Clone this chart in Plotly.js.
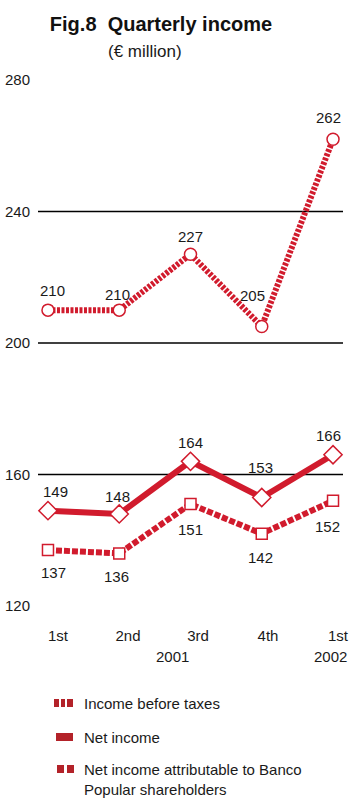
<!DOCTYPE html>
<html>
<head>
<meta charset="utf-8">
<script src="https://cdn.plot.ly/plotly-3.0.1.min.js"></script>
<style>
  html, body { margin: 0; padding: 0; background: #fff; }
  #chart { width: 350px; height: 798px; }
</style>
</head>
<body>
<div id="chart"></div>
<script>
// Quarterly income, € million
const quarters = ['1st', '2nd', '3rd', '4th', '1st'];
const years = ['2001', '2002'];
const incomeBeforeTaxes = [210, 210, 227, 205, 262];
const netIncome = [149, 148, 164, 153, 166];
const netAttributable = [137, 136, 151, 142, 152];
const seriesNames = [
  'Income before taxes',
  'Net income',
  'Net income attributable to Banco<br>Popular shareholders'
];

const W = 350, H = 798;
const M = { l: 38, r: 7, t: 80, b: 192 };
const plotW = W - M.l - M.r, plotH = H - M.t - M.b;
// pixel -> paper helpers for the decorations around the plot
const px = x => (x - M.l) / plotW;
const py = y => (H - M.b - y) / plotH;

const LINE_RED = '#d11b2d';
const SWATCH_RED = '#b32229';
const FONT = 'Liberation Sans, Arial, sans-serif';
const TEXT = '#1a1a1a';

const idx = quarters.map((_, i) => i);

function series(values, name, dash, symbol, size) {
  return {
    type: 'scatter', mode: 'lines+markers', name,
    x: idx, y: values,
    line: { color: LINE_RED, width: 6, dash },
    marker: { symbol, size, color: '#ffffff', line: { color: LINE_RED, width: 1.5 } },
    hoverinfo: 'skip', cliponaxis: false
  };
}

const traces = [
  series(netAttributable, seriesNames[2], '6px,2px', 'square', 11),
  series(netIncome, seriesNames[1], 'solid', 'diamond', 14),
  series(incomeBeforeTaxes, seriesNames[0], '3px,1.5px', 'circle', 12),
  // empty trace that carries the quarter-label axis
  { type: 'scatter', x: [], y: [], xaxis: 'x2', yaxis: 'y', hoverinfo: 'skip', showlegend: false }
];

// value labels: offsets (px) per point
const annotations = [];
function valueLabels(values, offsets) {
  values.forEach((v, i) => {
    annotations.push({
      x: i, y: v, xref: 'x', yref: 'y', text: String(v), showarrow: false,
      xanchor: 'center', yanchor: 'middle',
      xshift: offsets[i][0], yshift: offsets[i][1],
      font: { family: FONT, size: 15, color: TEXT }
    });
  });
}
valueLabels(incomeBeforeTaxes, [[5, 20], [-2, 16], [0, 18], [-9, 31], [-5, 22]]);
valueLabels(netIncome, [[8, 19], [-2, 17], [0, 19], [-1, 30], [-5, 19]]);
valueLabels(netAttributable, [[6, -22], [-3, -23], [0, -25], [-1, -24], [-6, -26]]);

function note(text, x, y, xanchor, font) {
  annotations.push({
    xref: 'paper', yref: 'paper', x: px(x), y: py(y), text, showarrow: false,
    xanchor, yanchor: 'middle', align: 'left', font
  });
}
// subtitle and year labels
note('(€ million)', 145, 52, 'center', { family: FONT, size: 17, color: TEXT });
note(years[0], 172, 656, 'center', { family: FONT, size: 15, color: TEXT });
note(years[1], 349, 656, 'right', { family: FONT, size: 15, color: TEXT });

// legend text
const legendY = [703, 737, 779];
seriesNames.forEach((n, k) => {
  note(n, 82, legendY[k], 'left', { family: FONT, size: 15, color: TEXT });
});

// horizontal rules and legend swatches
const shapes = [160, 200, 240].map(v => ({
  type: 'line', xref: 'paper', yref: 'y', x0: 0, x1: 1, y0: v, y1: v,
  line: { color: '#000', width: 1.6 }, layer: 'below'
}));
function swatch(x0, x1, y0, y1) {
  shapes.push({
    type: 'rect', xref: 'paper', yref: 'paper',
    x0: px(x0), x1: px(x1), y0: py(y1), y1: py(y0),
    fillcolor: SWATCH_RED, line: { width: 0 }
  });
}
// dashed swatch
swatch(54, 59, 699, 707); swatch(61, 65, 699, 707); swatch(67, 73, 699, 707);
// solid swatch
swatch(56, 73, 733, 741);
// square-dash swatch
swatch(57, 64, 765, 773); swatch(67, 74, 765, 773);

const layout = {
  width: W, height: H,
  margin: M,
  paper_bgcolor: '#fff', plot_bgcolor: '#fff',
  showlegend: false,
  title: {
    text: '<b>Fig.8\u00a0 Quarterly income</b>',
    xref: 'container', yref: 'container', x: 161 / W, y: 1 - 24 / H,
    xanchor: 'center', yanchor: 'middle',
    font: { family: FONT, size: 20, color: '#111' }
  },
  xaxis: {
    range: [-0.14, 4.14], showticklabels: false,
    showgrid: false, zeroline: false, showline: false, ticks: '', fixedrange: true
  },
  // quarter labels sit slightly to the right of the points
  xaxis2: {
    overlaying: 'x', anchor: 'y', side: 'bottom',
    range: [-20 / 70, 4 + 5 / 70], tickvals: idx, ticktext: quarters,
    showgrid: false, zeroline: false, showline: false,
    ticks: 'outside', ticklen: 16, tickcolor: 'rgba(0,0,0,0)',
    ticklabeloverflow: 'allow',
    tickfont: { family: FONT, size: 15, color: TEXT }, fixedrange: true
  },
  yaxis: {
    range: [120, 280], tickvals: [120, 160, 200, 240, 280],
    showgrid: false, zeroline: false, showline: false,
    ticks: '', ticklabelstandoff: 7,
    tickfont: { family: FONT, size: 15, color: TEXT }, fixedrange: true
  },
  annotations, shapes
};

Plotly.newPlot('chart', traces, layout, { staticPlot: true, displayModeBar: false });
</script>
</body>
</html>
